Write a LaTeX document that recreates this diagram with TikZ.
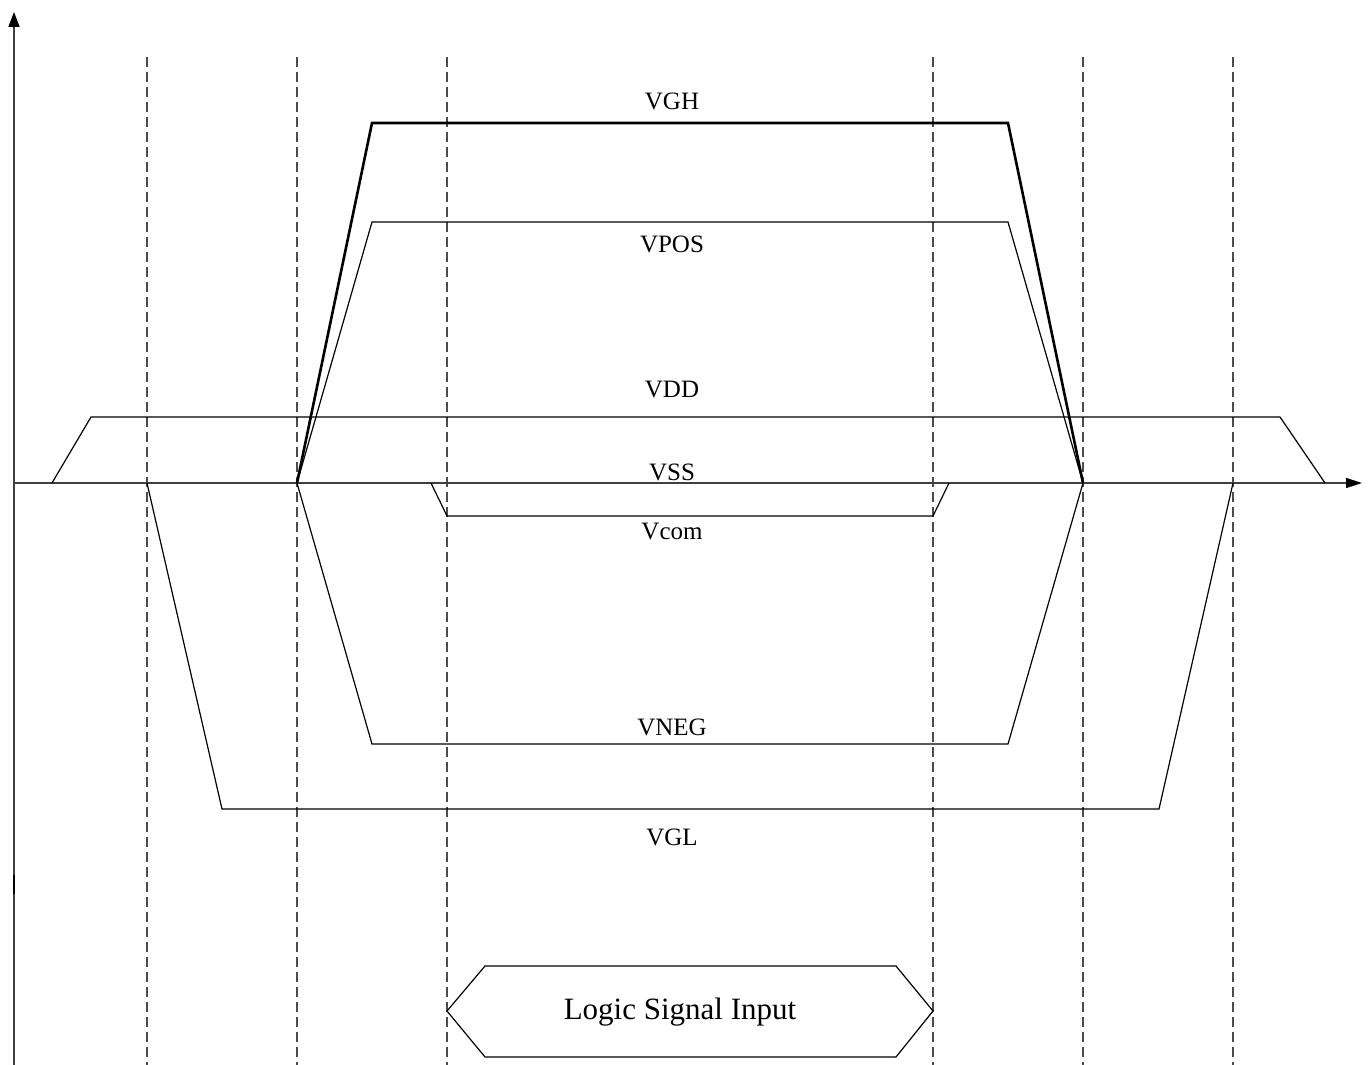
\documentclass[tikz,border=0pt]{standalone}
\usepackage{fontspec}
\setmainfont{Liberation Serif}
\usetikzlibrary{arrows.meta}
\begin{document}
\begin{tikzpicture}[x=1pt,y=-1pt,
  wave/.style={line width=1.2pt,line join=miter},
  wavebold/.style={line width=2.6pt,line join=miter},
  axis/.style={line width=1.5pt,black!75},
  guide/.style={line width=1.3pt,black!70,dash pattern=on 10pt off 5pt},
  lbl/.style={font=\fontsize{25}{30}\selectfont,inner sep=0pt},
  biglbl/.style={font=\fontsize{31}{37}\selectfont,inner sep=0pt}]
\useasboundingbox (0,0) rectangle (1368,1065);
% guides
\foreach \x in {147,297,447,933,1083,1233}
  \draw[guide] (\x,57) -- (\x,1065);
% axes
\coordinate (ybot) at (14,1065);
\coordinate (ytop) at (14,12);
\coordinate (xl) at (14,483);
\coordinate (xr) at (1362,483);
\draw[axis,-{Triangle[length=15pt,width=11pt,black]}] (ybot) -- (ytop);
\draw[axis,-{Triangle[length=16pt,width=10pt,black]}] (xl) -- (xr);
\draw[line width=2.2pt,black] (14,875) -- (14,894);
% waveforms
\draw[wave] (52,483) -- (91,417) -- (1280,417) -- (1325,483);
\draw[wavebold] (297,483) -- (372,123) -- (1008,123) -- (1083,483);
\draw[wave] (297,483) -- (372,222) -- (1008,222) -- (1083,483);
\draw[wave] (297,483) -- (372,744) -- (1008,744) -- (1083,483);
\draw[wave] (147,483) -- (222,809) -- (1159,809) -- (1233,483);
\draw[wave] (431,483) -- (447,516) -- (933,516) -- (949,483);
% labels
\node[lbl] (vgh) at (672,101) {VGH};
\node[lbl] (vpos) at (672,244) {VPOS};
\node[lbl] (vdd) at (672,390) {VDD};
\node[lbl] (vss) at (672,472) {VSS};
\node[lbl] (vcom) at (672,531) {Vcom};
\node[lbl] (vneg) at (672,727) {VNEG};
\node[lbl] (vgl) at (672,837) {VGL};
% logic signal input
\draw[wave] (447,1011) -- (485,966) -- (896,966) -- (933,1011) -- (896,1057) -- (485,1057) -- cycle;
\node[biglbl] (logic) at (680,1012) {Logic Signal Input};
\end{tikzpicture}
\end{document}
